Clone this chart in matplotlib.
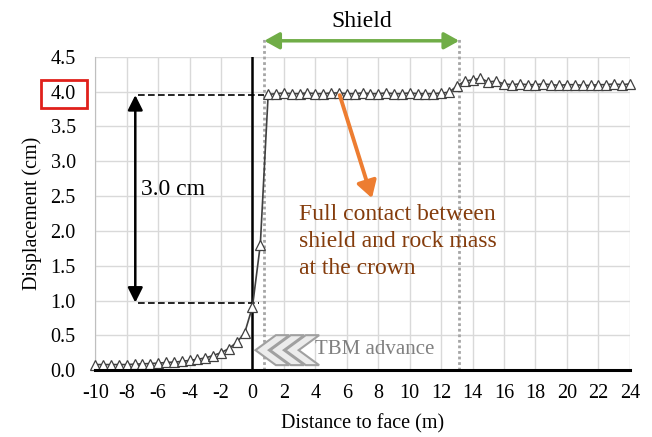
import numpy as np
import matplotlib
matplotlib.use('Agg')
import matplotlib.pyplot as plt
from matplotlib.patches import Polygon, Rectangle

plt.rcParams['axes.unicode_minus'] = False

# distance to face (m), every 0.5 m
distance = np.arange(-10, 24.01, 0.5)

# displacement (cm)
disp_before = [0.08, 0.08, 0.08, 0.08, 0.08, 0.085, 0.09, 0.095, 0.10, 0.11,
               0.115, 0.125, 0.14, 0.155, 0.175, 0.21, 0.25, 0.31, 0.40, 0.53]
disp_face = [0.91, 1.80]
disp_shield = [3.96, 3.97, 3.98, 3.97, 3.97, 3.98, 3.97, 3.97, 3.98, 3.98,
               3.97, 3.97, 3.98, 3.97, 3.97, 3.98, 3.97, 3.97, 3.98, 3.97,
               3.97, 3.97, 3.98, 3.99]
disp_after = [4.08, 4.15, 4.17, 4.19, 4.14, 4.15, 4.11, 4.10, 4.11, 4.10,
              4.10, 4.11, 4.10, 4.09, 4.10, 4.10, 4.09, 4.09, 4.10, 4.10,
              4.11, 4.10, 4.11]
displacement = disp_before + disp_face + disp_shield + disp_after

x_ticks = list(range(-10, 25, 2))
y_ticks = [0.0, 0.5, 1.0, 1.5, 2.0, 2.5, 3.0, 3.5, 4.0, 4.5]

shield_start, shield_end = 0.75, 13.15
serif = ['Liberation Serif', 'DejaVu Serif']

fig = plt.figure(figsize=(6.52, 4.37), dpi=100)
ax = fig.add_axes([0.146, 0.153, 0.82, 0.717])

# grid and axes
ax.set_xlim(-10, 24)
ax.set_ylim(0, 4.5)
ax.set_xticks(x_ticks)
ax.set_yticks(y_ticks)
ax.set_yticklabels(['%.1f' % v for v in y_ticks])
ax.grid(True, color='#d9d9d9', lw=1)
ax.set_axisbelow(True)
for s in ['top', 'right']:
    ax.spines[s].set_visible(False)
ax.spines['left'].set_color('#bfbfbf')
ax.spines['left'].set_linewidth(0.8)
ax.spines['bottom'].set_linewidth(2.2)
ax.spines['bottom'].set_zorder(6)
ax.tick_params(length=0, labelsize=14.5, pad=10)
ax.tick_params(axis='y', pad=14)
for lab in ax.get_xticklabels() + ax.get_yticklabels():
    lab.set_family(serif)
ax.set_xlabel('Distance to face (m)', fontsize=14.5, family=serif, labelpad=8)
ax.set_ylabel('Displacement (cm)', fontsize=14.5, family=serif, labelpad=6)

# face line
ax.plot([0, 0], [0, 4.5], color='black', lw=1.8, zorder=3)

# shield limits
for xs in [shield_start, shield_end]:
    ax.plot([xs, xs], [0, 4.78], color='#a6a6a6', lw=2, ls=(0, (1, 1)),
            clip_on=False, zorder=2)
ax.annotate('', xy=(shield_start, 4.73), xytext=(shield_end, 4.73),
            arrowprops=dict(arrowstyle='<|-|>,head_length=0.9,head_width=0.5',
                            color='#70ad47', lw=2.5, shrinkA=0, shrinkB=0),
            annotation_clip=False)
ax.text((shield_start + shield_end) / 2, 5.0, 'Shield', fontsize=17,
        family=serif, ha='center', va='center', clip_on=False)

# data
ax.plot(distance, displacement, color='#404040', lw=1.2, marker='^',
        markersize=7, markerfacecolor='white', markeredgecolor='#404040',
        markeredgewidth=0.9, zorder=5, clip_on=False)

# 3.0 cm annotation
ax.plot([-7.3, shield_start], [3.95, 3.95], color='black', lw=1.2, ls=(0, (4, 2)), zorder=4)
ax.plot([-7.3, 0.4], [0.97, 0.97], color='black', lw=1.2, ls=(0, (4, 2)), zorder=4)
ax.annotate('', xy=(-7.45, 3.95), xytext=(-7.45, 0.97),
            arrowprops=dict(arrowstyle='<|-|>,head_length=0.9,head_width=0.45',
                            color='black', lw=1.8, shrinkA=0, shrinkB=0))
ax.text(-7.1, 2.6, '3.0 cm', fontsize=17, family=serif, ha='left', va='center')

# full contact annotation
ax.annotate('', xy=(7.6, 2.47), xytext=(5.55, 3.95),
            arrowprops=dict(arrowstyle='-|>,head_length=1.0,head_width=0.6',
                            color='#ed7d31', lw=2.8, shrinkA=0, shrinkB=0),
            zorder=6)
ax.text(2.95, 2.38, 'Full contact between\nshield and rock mass\nat the crown',
        fontsize=17, family=serif, color='#843c0c', ha='left', va='top',
        linespacing=1.35)

# TBM advance chevrons
yc, h, w, t = 0.287, 0.43, 1.3, 0.85
for i in [2, 1, 0]:
    tip = 0.19 + i * 0.95
    pts = [(tip, yc), (tip + w, yc + h / 2), (tip + w + t, yc + h / 2),
           (tip + t, yc), (tip + w + t, yc - h / 2), (tip + w, yc - h / 2)]
    ax.add_patch(Polygon(pts, closed=True, facecolor='#ececec',
                         edgecolor='#a0a0a0', lw=1.5, zorder=4))
ax.text(4.0, 0.29, 'TBM advance', fontsize=15, family=serif, color='#808080',
        ha='left', va='center', zorder=4)

# red box round the 4.0 tick label
fig.patches.append(Rectangle((0.0629, 0.7529), 0.0706, 0.064, transform=fig.transFigure,
                             fill=False, edgecolor='#e0201b', lw=2))

fig.savefig('out.png', dpi=100)
